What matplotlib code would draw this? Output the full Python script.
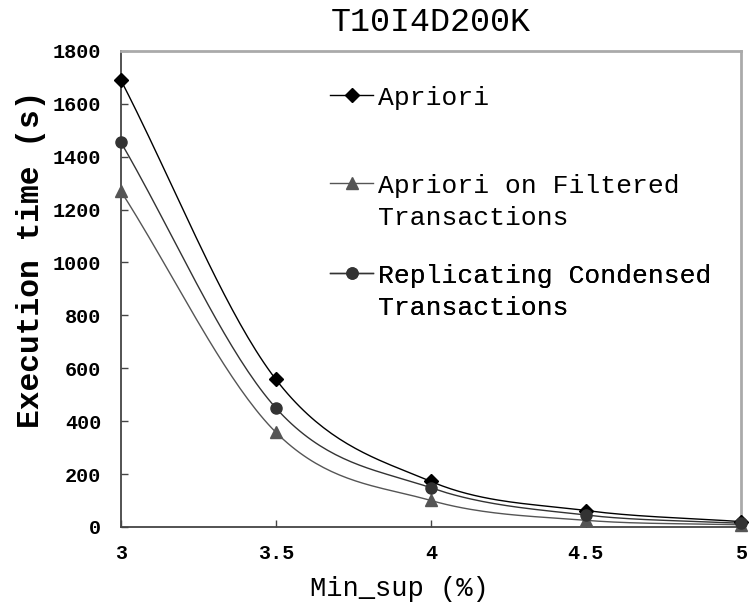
import numpy as np
import matplotlib
matplotlib.use('Agg')
import matplotlib.pyplot as plt
from matplotlib.lines import Line2D

# values
min_sup = [3, 3.5, 4, 4.5, 5]
apriori = [1690, 558, 172, 62, 20]
filtered = [1270, 358, 100, 25, 8]
replicating = [1455, 450, 148, 45, 14]
labels = [['Apriori'], ['Apriori on Filtered', 'Transactions'], ['Replicating Condensed', 'Transactions']]
yticks = [0, 200, 400, 600, 800, 1000, 1200, 1400, 1600, 1800]
xticks = [3, 3.5, 4, 4.5, 5]
xticklabels = ['3', '3.5', '4', '4.5', '5']

plt.rcParams['font.family'] = ['Liberation Mono', 'DejaVu Sans Mono']


def smooth(x, y, n=40):
    # bezier smoothing through the points, like excel's smoothed line
    x = np.asarray(x, float)
    y = np.asarray(y, float)
    px = np.concatenate([[2 * x[0] - x[1]], x, [2 * x[-1] - x[-2]]])
    py = np.concatenate([[2 * y[0] - y[1]], y, [2 * y[-1] - y[-2]]])
    xs, ys = [], []
    t = np.linspace(0, 1, n)
    for i in range(1, len(px) - 2):
        p0, p1, p2, p3 = px[i - 1], px[i], px[i + 1], px[i + 2]
        q0, q1, q2, q3 = py[i - 1], py[i], py[i + 1], py[i + 2]
        c1x, c1y = p1 + (p2 - p0) / 6, q1 + (q2 - q0) / 6
        c2x, c2y = p2 - (p3 - p1) / 6, q2 - (q3 - q1) / 6
        bx = (1 - t) ** 3 * p1 + 3 * (1 - t) ** 2 * t * c1x + 3 * (1 - t) * t ** 2 * c2x + t ** 3 * p2
        by = (1 - t) ** 3 * q1 + 3 * (1 - t) ** 2 * t * c1y + 3 * (1 - t) * t ** 2 * c2y + t ** 3 * q2
        xs.extend(bx)
        ys.extend(by)
    return np.array(xs), np.array(ys)


fig = plt.figure(figsize=(7.5, 6.12), dpi=100)
ax = fig.add_axes([0.161, 0.139, 0.827, 0.778])

series = [(apriori, 'D', '#000000', 7), (filtered, '^', '#555555', 8.5), (replicating, 'o', '#333333', 8)]
handles = []
for vals, mk, col, ms in series:
    sx, sy = smooth(min_sup, vals)
    ax.plot(sx, sy, color=col, lw=1.0)
    ax.plot(min_sup, vals, linestyle='none', marker=mk, color=col, ms=ms, clip_on=False, zorder=5)
    h = Line2D([], [], color=col, lw=1.0, marker=mk, ms=ms)
    handles.append(h)

ax.set_xlim(3, 5)
ax.set_ylim(0, 1800)
ax.set_xticks(xticks)
ax.set_xticklabels(xticklabels)
ax.set_yticks(yticks)
ax.tick_params(axis='both', direction='in', length=5, width=1, color='#444444', labelsize=14.5)
ax.tick_params(axis='x', pad=12)
ax.tick_params(axis='y', pad=14)
for lab in ax.get_xticklabels() + ax.get_yticklabels():
    lab.set_fontweight('bold')

for s in ['left', 'bottom']:
    ax.spines[s].set_color('#444444')
    ax.spines[s].set_linewidth(1.3)
for s in ['top', 'right']:
    ax.spines[s].set_color('#aaaaaa')
    ax.spines[s].set_linewidth(2)

ax.set_title('T10I4D200K', fontsize=24, pad=14)
ax.set_xlabel('Min_sup (%)', fontsize=19.5)
ax.xaxis.set_label_coords(0.45, -0.104)
ax.set_ylabel('Execution time (s)', fontsize=22.5, fontweight='bold')
ax.yaxis.set_label_coords(-0.12, 0.563)

# one small legend per series so the marker sits on the first text line
blank = Line2D([], [], linestyle='none')
tops = [0.927, 0.742, 0.553]
for h, lab, top in zip(handles, labels, tops):
    hs = [h] + [blank] * (len(lab) - 1)
    leg = ax.legend(hs, lab, loc='upper left', bbox_to_anchor=(0.338, top), frameon=False,
                    fontsize=19, handlelength=1.6, handletextpad=0.2, labelspacing=0.3,
                    borderpad=0, borderaxespad=0)
    ax.add_artist(leg)

fig.savefig('out.png', dpi=100)
